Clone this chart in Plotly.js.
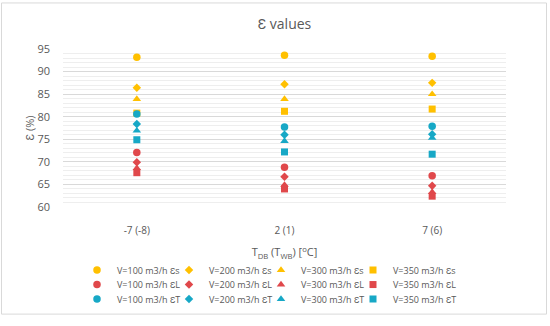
<!DOCTYPE html>
<html>
<head>
<meta charset="utf-8">
<script src="https://cdn.plot.ly/plotly-3.0.1.min.js"></script>
<style>html,body{margin:0;padding:0;background:#fff;}#chart{width:550px;height:326px;}</style>
</head>
<body>
<div id="chart"></div>
<script>
// Categories (T_DB (T_WB) in °C)
const categories = ['-7 (-8)', '2 (1)', '7 (6)'];
const flowLabels = ['V=100 m3/h', 'V=200 m3/h', 'V=300 m3/h', 'V=350 m3/h'];

// Ɛs (sensible)
const es100 = [93.2, 93.6, 93.4];
const es200 = [86.4, 87.2, 87.5];
const es300 = [83.9, 83.9, 85.0];
const es350 = [80.8, 81.2, 81.7];
// ƐL (latent)
const el100 = [72.1, 68.8, 66.9];
const el200 = [69.9, 66.7, 64.7];
const el300 = [68.6, 64.9, 63.3];
const el350 = [67.6, 64.0, 62.4];
// ƐT (total)
const et100 = [80.6, 77.7, 77.9];
const et200 = [78.4, 76.0, 76.1];
const et300 = [76.9, 74.6, 75.3];
const et350 = [74.9, 72.2, 71.7];

const groups = [
  {suffix: 'Ɛs', color: '#FFC000', data: [es100, es200, es300, es350]},
  {suffix: 'ƐL', color: '#E0484B', data: [el100, el200, el300, el350]},
  {suffix: 'ƐT', color: '#17A8C6', data: [et100, et200, et300, et350]}
];
const symbols = ['circle', 'diamond', 'triangle-up', 'square'];
const sizes = [7.5, 6.5, 7.5, 7];

const L = 63, R = 44, T = 49, B = 114;
const PW = 550 - L - R, PH = 326 - T - B;
const px2x = p => (p - L) / PW;
const py2y = p => (326 - B - p) / PH;
const txt = '#595959';

// legend layout (one legend per entry so the 4x3 grid is exact)
const legendCols = [97, 189, 281, 373];
const legendRows = [277, 292, 307];

const traces = [];
const legends = {};
groups.forEach((g, r) => {
  g.data.forEach((vals, i) => {
    const idx = r * 4 + i + 1;
    const key = idx === 1 ? 'legend' : 'legend' + idx;
    traces.push({
      type: 'scatter', mode: 'markers',
      x: categories, y: vals,
      name: flowLabels[i] + ' ' + g.suffix,
      legend: key,
      marker: {symbol: symbols[i], color: g.color, size: sizes[i], line: {width: 0}}
    });
    legends[key] = {
      orientation: 'h', xanchor: 'left', yanchor: 'middle',
      x: px2x(legendCols[i] - 20), y: py2y(legendRows[r]),
      font: {family: 'Open Sans, sans-serif', size: 9, color: txt},
      bgcolor: 'rgba(0,0,0,0)', itemclick: false
    };
  });
});

const layout = Object.assign({
  width: 550, height: 326,
  margin: {l: L, r: R, t: T, b: B, pad: 0},
  paper_bgcolor: '#fff', plot_bgcolor: '#fff',
  font: {family: 'Open Sans, sans-serif', color: txt},
  title: {text: 'Ɛ values', x: 0.5, xref: 'paper', y: 1 - 24 / 326, yanchor: 'middle', yref: 'container',
          font: {size: 14, color: txt}},
  showlegend: true,
  xaxis: {
    type: 'category', range: [-0.5, 2.5], showgrid: false, zeroline: false, showline: false,
    ticks: '', tickfont: {size: 10, color: txt}, ticklabelstandoff: 16,
    title: {text: 'T<sub>DB</sub> (T<sub>WB</sub>) [<sup>o</sup>C]', font: {size: 11, color: txt}, standoff: 12}
  },
  yaxis: {
    range: [60, 95], dtick: 5, tick0: 60, showgrid: true, gridcolor: '#D9D9D9', gridwidth: 1,
    minor: {dtick: 1, showgrid: true, gridcolor: '#EEEEEE', gridwidth: 1},
    zeroline: false, showline: false, ticks: '', ticklabelstandoff: 12,
    tickfont: {size: 11, color: txt},
    title: {text: 'Ɛ (%)', font: {size: 11, color: txt}, standoff: 0}
  },
  shapes: [{
    type: 'rect', xref: 'paper', yref: 'paper',
    x0: px2x(1.5), x1: px2x(546.5), y0: py2y(322.5), y1: py2y(1.5),
    line: {color: '#D9D9D9', width: 1}, fillcolor: 'rgba(0,0,0,0)', layer: 'below'
  }]
}, legends);

Plotly.newPlot('chart', traces, layout, {displayModeBar: false, staticPlot: true});
</script>
</body>
</html>
